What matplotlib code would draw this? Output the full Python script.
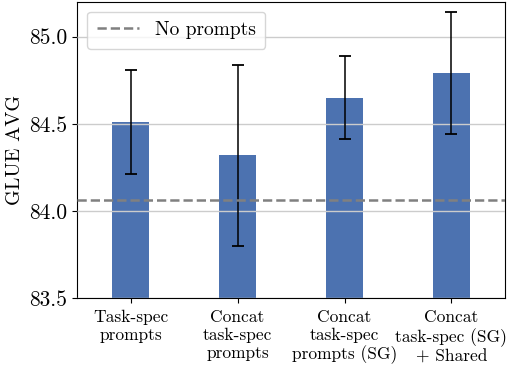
import numpy as np
import matplotlib
matplotlib.use("Agg")
import matplotlib.pyplot as plt

plt.rcParams['font.family'] = 'serif'
plt.rcParams['font.serif'] = ['cmr10', 'DejaVu Serif']
plt.rcParams['mathtext.fontset'] = 'cm'
plt.rcParams['axes.formatter.use_mathtext'] = True

labels = ["Task-spec\nprompts",
          "Concat\ntask-spec\nprompts",
          "Concat\ntask-spec\nprompts (SG)",
          "Concat\ntask-spec (SG)\n+ Shared"]
glue_avg = [84.51, 84.32, 84.65, 84.79]
glue_err = [0.30, 0.52, 0.24, 0.35]
no_prompts = 84.06

fig, ax = plt.subplots(figsize=(5.07, 3.67), dpi=100)
x = np.arange(len(labels))
ax.bar(x, glue_avg, width=0.35, color='#4C72B0', zorder=2)
ax.errorbar(x, glue_avg, yerr=glue_err, fmt='none', ecolor='black',
            elinewidth=1.1, capsize=4, capthick=1.3, zorder=3)
ax.axhline(no_prompts, color='gray', linestyle='--', linewidth=1.8,
           label='No prompts', zorder=4)
ax.yaxis.grid(True, color='#cccccc', linewidth=1, zorder=2.5)
ax.set_axisbelow(False)

ax.set_xlim(-0.5, 3.5)
ax.set_ylim(83.5, 85.2)
ax.set_yticks([83.5, 84.0, 84.5, 85.0])
ax.set_yticklabels(['83.5', '84.0', '84.5', '85.0'], fontsize=15.5)
ax.set_xticks(x)
ax.set_xticklabels(labels, fontsize=12.5, linespacing=1.2)
ax.tick_params(axis='x', pad=5)
ax.set_ylabel('GLUE AVG', fontsize=14.5)
ax.legend(loc='upper left', fontsize=14, handlelength=2.2, borderpad=0.5)

fig.subplots_adjust(left=0.152, right=0.996, top=0.995, bottom=0.188)
fig.savefig('out.png', dpi=100)
